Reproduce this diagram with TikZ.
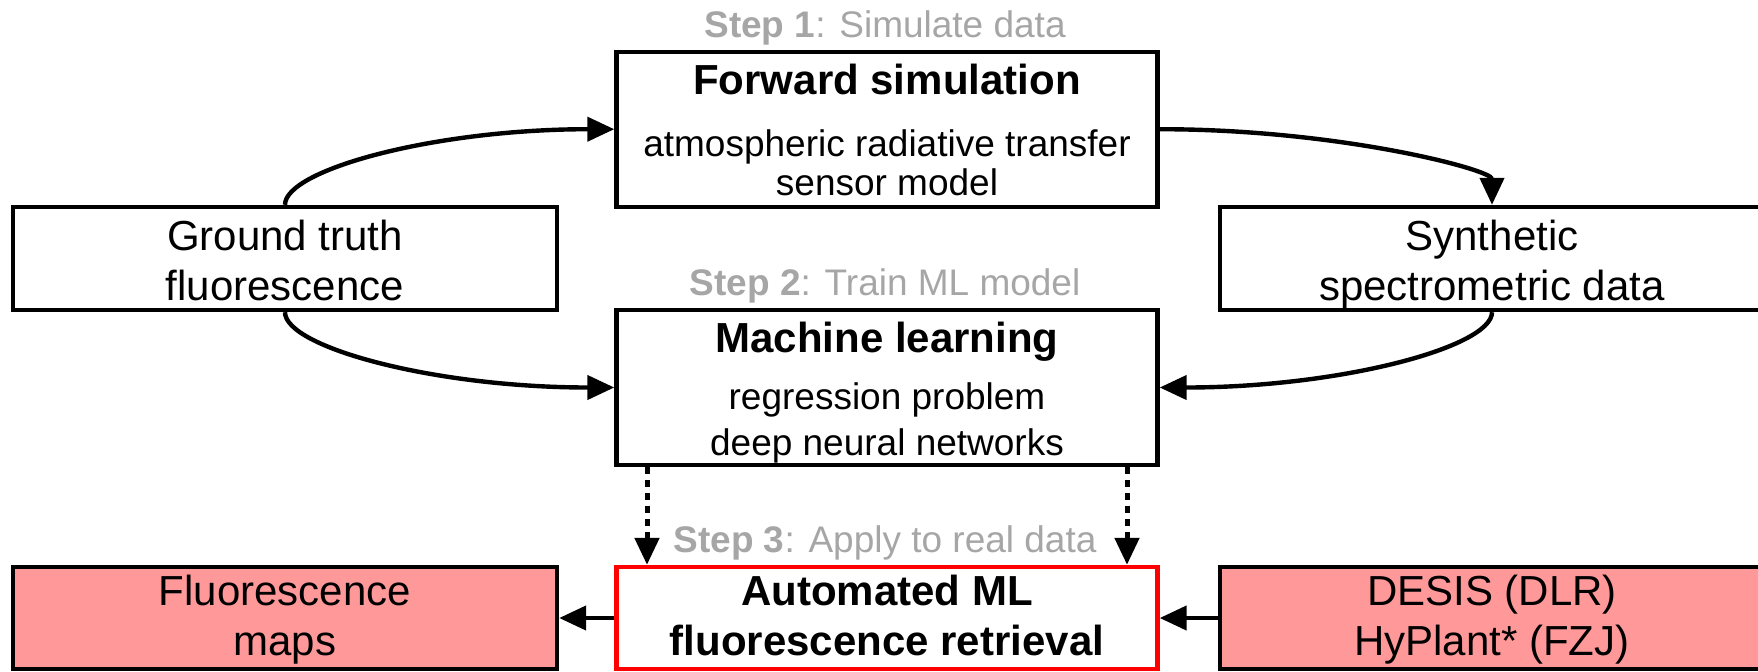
\documentclass[tikz,border=0pt]{standalone}
\usepackage{fontspec}
\setmainfont{Liberation Sans}
\usetikzlibrary{arrows.meta,positioning}
\definecolor{pinkfill}{RGB}{255,153,153}
\definecolor{retred}{RGB}{255,0,0}
\definecolor{stepgray}{RGB}{166,166,166}
\newcommand{\maintxt}{\fontsize{21}{25}\selectfont}
\newcommand{\subtxt}{\fontsize{18.5}{20}\selectfont}
\tikzset{
  >={Triangle[length=13.5pt,width=12pt]},
  box/.style={draw=black,line width=2.2pt,fill=#1,inner sep=0pt,
    minimum width=272pt,minimum height=51.5pt,align=center,font=\maintxt,
    text height=42pt,text depth=0pt},
  box/.default=white,
  big box/.style={box,minimum width=270.5pt,minimum height=77.5pt,font=\subtxt},
  steplabel/.style={text=stepgray,font=\subtxt,inner sep=0pt},
  flow/.style={->,line width=2.2pt},
  apply/.style={->,line width=2.5pt,dash pattern=on 3.5pt off 3pt},
}
\begin{document}
\begin{tikzpicture}[x=0.5pt,y=-0.5pt]
  \useasboundingbox (0,0) rectangle (1758,671);
  \clip (0,0) rectangle (1758,671);
  % step 1
  \node[steplabel] (s1) at (885,28) {\textbf{Step 1}: Simulate data};
  \node[big box,text height=70.6pt,text depth=4.3pt] (fwd) at (887,129.2)
    {{\maintxt\bfseries Forward simulation}\\[11.1pt]
     atmospheric radiative transfer\\[-0.6pt]sensor model};
  \node[box] (gt) at (285,258.5) {Ground truth\\fluorescence};
  \node[box] (syn) at (1492,258.5) {Synthetic\\spectrometric data};
  % step 2
  \node[steplabel] (s2) at (885,286) {\textbf{Step 2}: Train ML model};
  \node[big box,text height=68.4pt,text depth=0pt] (ml) at (887,387.5)
    {{\maintxt\bfseries Machine learning}\\[8.3pt]
     regression problem\\[3.4pt]deep neural networks};
  % step 3
  \node[steplabel] (s3) at (885,543) {\textbf{Step 3}: Apply to real data};
  \node[box,draw=retred,minimum width=270.5pt,minimum height=51pt,
    text height=37.6pt] (auto) at (887,618)
    {\textbf{Automated ML}\\\textbf{fluorescence retrieval}};
  \node[box=pinkfill,minimum height=51pt,text height=37.6pt] (maps) at (285,618)
    {Fluorescence\\maps};
  \node[box=pinkfill,minimum height=51pt,text height=37.6pt] (desis) at (1492,618)
    {DESIS (DLR)\\HyPlant* (FZJ)};

  \draw[flow] (gt.north) .. controls +(0,-35) and +(-180,0) .. (fwd.west);
  \draw[flow] (fwd.east) .. controls +(180,0) and +(0,-35) .. (syn.north);
  \draw[flow] (gt.south) .. controls +(0,35) and +(-180,0) .. (ml.west);
  \draw[flow] (syn.south) .. controls +(0,35) and +(180,0) .. (ml.east);
  \draw[apply] ([xshift=-120pt]ml.south) -- ([xshift=-120pt]auto.north);
  \draw[apply] ([xshift=120pt]ml.south) -- ([xshift=120pt]auto.north);
  \draw[flow] (auto.west) -- (maps.east);
  \draw[flow] (desis.west) -- (auto.east);
\end{tikzpicture}
\end{document}
